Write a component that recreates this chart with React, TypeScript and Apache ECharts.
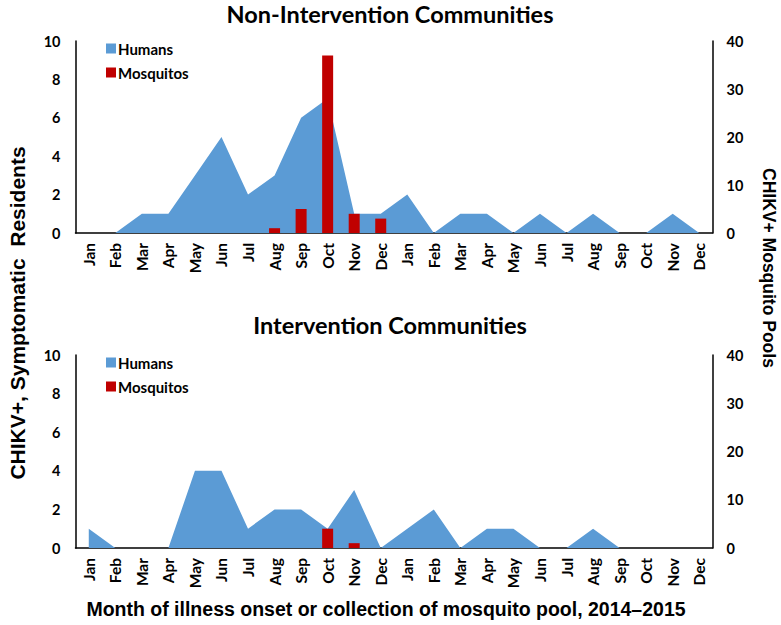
import React, { useEffect, useRef } from "react";
import * as echarts from "echarts";

const monthNames = ["Jan","Feb","Mar","Apr","May","Jun","Jul","Aug","Sep","Oct","Nov","Dec"];
const months = [...monthNames, ...monthNames];

const nonInterventionHumans = [0,0,1,1,3,5,2,3,6,7,1,1,2,0,1,1,0,1,0,1,0,0,1,0];
const nonInterventionMosquitos = [null,null,null,null,null,null,null,1,5,37,4,3,null,null,null,null,null,null,null,null,null,null,null,null];
const interventionHumans = [1,0,0,0,4,4,1,2,2,1,3,0,1,2,0,1,1,0,0,1,0,0,0,0];
const interventionMosquitos = [null,null,null,null,null,null,null,null,null,4,1,null,null,null,null,null,null,null,null,null,null,null,null,null];

const leftTicks = [0, 10, 2];   // min, max, interval
const rightTicks = [0, 40, 10];

const BLUE = "#5B9BD5";
const RED = "#C00000";
const TICK_FONT = "Lato, 'Open Sans', sans-serif";
const ARIAL = "'Liberation Sans', Arial, sans-serif";

export default function App() {
  const ref = useRef<HTMLDivElement>(null);
  useEffect(() => {
    document.body.style.margin = "0";
    const chart = echarts.init(ref.current!, null, { renderer: "svg" });
    const axisLine = { show: true, lineStyle: { color: "#000", width: 1.5 } };
    const tickLabel = { color: "#000", fontFamily: TICK_FONT, fontWeight: "bold" as const, fontSize: 14.5 };
    const xAxis = (gridIndex: number) => ({
      type: "category",
      gridIndex,
      data: months,
      boundaryGap: true,
      axisLine,
      axisTick: { show: false },
      axisLabel: { ...tickLabel, fontSize: 15.5, rotate: 90, interval: 0, margin: 10 },
    });
    const yLeft = (gridIndex: number) => ({
      type: "value",
      gridIndex,
      position: "left",
      min: leftTicks[0], max: leftTicks[1], interval: leftTicks[2],
      axisLine, axisTick: { show: false }, splitLine: { show: false },
      axisLabel: { ...tickLabel, margin: 15 },
    });
    const yRight = (gridIndex: number) => ({
      type: "value",
      gridIndex,
      position: "right",
      min: rightTicks[0], max: rightTicks[1], interval: rightTicks[2],
      axisLine, axisTick: { show: false }, splitLine: { show: false },
      axisLabel: { ...tickLabel, margin: 14 },
    });
    const areaSeries = (idx: number, data: number[]) => ({
      name: "Humans",
      type: "line",
      xAxisIndex: idx,
      yAxisIndex: idx * 2,
      data,
      showSymbol: false,
      symbol: "none",
      lineStyle: { width: 0, color: BLUE },
      itemStyle: { color: BLUE },
      areaStyle: { color: BLUE, opacity: 1 },
      z: 1,
    });
    const barSeries = (idx: number, data: (number | null)[]) => ({
      name: "Mosquitos",
      type: "bar",
      xAxisIndex: idx,
      yAxisIndex: idx * 2 + 1,
      data,
      barWidth: 11,
      itemStyle: { color: RED },
      z: 3,
    });
    const legendText = { fontFamily: TICK_FONT, fontWeight: "bold", fontSize: 15, color: "#000", padding: [0, 0, 0, -3] };
    const legend = (top: number) => ({
      left: 101,
      top,
      orient: "vertical",
      icon: "rect",
      itemWidth: 10,
      itemHeight: 10,
      itemGap: 9,
      data: [
        { name: "Humans", textStyle: legendText },
        { name: "Mosquitos", textStyle: legendText },
      ],
      textStyle: legendText,
      selectedMode: false,
    });
    const titleStyle = { fontFamily: TICK_FONT, fontWeight: "bold", fontSize: 23.5, lineHeight: 24, color: "#000" };
    chart.setOption({
      animation: false,
      backgroundColor: "#fff",
      title: [
        { text: "Non-Intervention Communities", left: 390, top: 2, padding: 0, textAlign: "center", textStyle: titleStyle },
        { text: "Intervention Communities", left: 390, top: 313, padding: 0, textAlign: "center", textStyle: titleStyle },
      ],
      legend: [legend(36), legend(350)],
      grid: [
        { left: 75.5, right: 68.5, top: 41, height: 192 },
        { left: 75.5, right: 68.5, top: 355, height: 193 },
      ],
      xAxis: [xAxis(0), xAxis(1)],
      yAxis: [yLeft(0), yRight(0), yLeft(1), yRight(1)],
      series: [
        areaSeries(0, nonInterventionHumans),
        barSeries(0, nonInterventionMosquitos),
        areaSeries(1, interventionHumans),
        barSeries(1, interventionMosquitos),
      ],
      graphic: [
        { type: "text", x: 17.5, y: 313, rotation: Math.PI / 2,
          style: { text: "CHIKV+, Symptomatic  Residents", fontFamily: ARIAL, fontWeight: "bold", fontSize: 21,
            fill: "#000", textAlign: "center", textVerticalAlign: "middle" } },
        { type: "text", x: 769, y: 268, rotation: -Math.PI / 2,
          style: { text: "CHIKV+ Mosquito Pools", fontFamily: ARIAL, fontWeight: "bold", fontSize: 17.5,
            fill: "#000", textAlign: "center", textVerticalAlign: "middle" } },
        { type: "text", x: 386, y: 609,
          style: { text: "Month of illness onset or collection of mosquito pool, 2014–2015", fontFamily: ARIAL,
            fontWeight: "bold", fontSize: 19.5, fill: "#000", textAlign: "center", textVerticalAlign: "middle" } },
      ],
    });
    return () => chart.dispose();
  }, []);
  return <div ref={ref} style={{ width: 781, height: 625 }} />;
}
